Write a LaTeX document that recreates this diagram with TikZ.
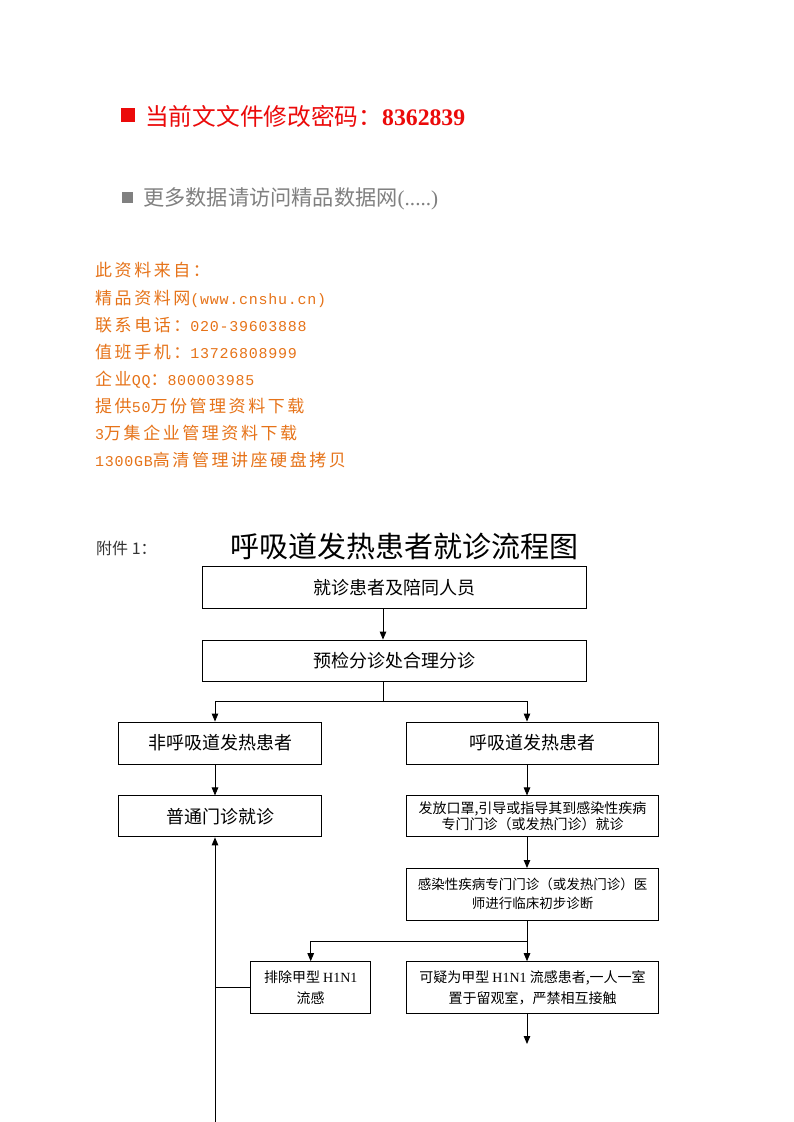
\documentclass[tikz,border=0pt]{standalone}
\usepackage{fontspec}
\setmainfont{Liberation Serif}
\newfontfamily\cjk{Noto Sans CJK SC}
\newfontfamily\cjksp{Noto Sans CJK SC}[LetterSpace=15]
\newfontfamily\monosp{Liberation Mono}[LetterSpace=5]
\usetikzlibrary{arrows.meta}
\definecolor{hdred}{RGB}{235,10,10}
\definecolor{hdgray}{RGB}{128,128,128}
\definecolor{orng}{RGB}{230,115,25}
\newcommand{\hw}[1]{{\monosp\fontsize{15}{17}\selectfont #1}}
\begin{document}
\begin{tikzpicture}[x=1pt,y=-1pt,
  box/.style={draw=black, line width=0.9pt, inner sep=0pt, align=center,
    font=\cjk\fontsize{18}{18}\selectfont},
  arr/.style={line width=0.9pt, -{Triangle[length=8pt,width=6.5pt]}},
  ln/.style={line width=0.9pt},
  otxt/.style={anchor=base west, inner sep=0pt, text=orng,
    font=\cjksp\fontsize{17}{17}\selectfont}
]
\useasboundingbox[fill=white] (0,0) rectangle (793,1122);

% header
\node[fill=hdred, minimum size=14pt, inner sep=0pt] (sq1) at (128,115) {};
\node[anchor=west, inner sep=0pt, text=hdred, font=\cjk\fontsize{23.7}{23.7}\selectfont]
  (pw) at (145,116) {当前文文件修改密码：{\rmfamily\bfseries 8362839}};
\node[fill=hdgray, minimum size=11pt, inner sep=0pt] (sq2) at (127,197.5) {};
\node[anchor=west, inner sep=0pt, text=hdgray, font=\cjk\fontsize{21.2}{21.2}\selectfont]
  (more) at (143,199) {更多数据请访问精品数据网{\rmfamily(.....)}};

% orange text
\node[otxt] (o1) at (95,276) {此资料来自：};
\node[otxt] (o2) at (95,304) {精品资料网\hw{(www.cnshu.cn)}};
\node[otxt] (o3) at (95,331) {联系电话：\hw{020-39603888}};
\node[otxt] (o4) at (95,358) {值班手机：\hw{13726808999}};
\node[otxt] (o5) at (95,385) {企业\hw{QQ}：\hw{800003985}};
\node[otxt] (o6) at (95,412) {提供\hw{50}万份管理资料下载};
\node[otxt] (o7) at (95,439) {\hw{3}万集企业管理资料下载};
\node[otxt] (o8) at (95,466) {\hw{1300GB}高清管理讲座硬盘拷贝};

% titles
\node[anchor=west, inner sep=0pt, text=black!80, font=\cjk\fontsize{16}{16}\selectfont]
  (att) at (96,548) {附件 1：};
\node[inner sep=0pt, font=\cjk\fontsize{29}{29}\selectfont] (title) at (404,546) {呼吸道发热患者就诊流程图};

% boxes
\node[box, minimum width=384pt, minimum height=41.5pt] (A) at (394.5,587.5) {就诊患者及陪同人员};
\node[box, minimum width=384pt, minimum height=41.5pt] (B) at (394.5,660.8) {预检分诊处合理分诊};
\node[box, minimum width=203pt, minimum height=42pt] (C) at (220,743) {非呼吸道发热患者};
\node[box, minimum width=252pt, minimum height=42pt] (D) at (532.5,743) {呼吸道发热患者};
\node[box, minimum width=203pt, minimum height=41pt] (E) at (220,816.4) {普通门诊就诊};
\node[box, minimum width=252pt, minimum height=41pt, font=\cjk\fontsize{14}{16}\selectfont]
  (F) at (532.5,816.4) {发放口罩,引导或指导其到感染性疾病\\专门门诊（或发热门诊）就诊};
\node[box, minimum width=252pt, minimum height=51.5pt, font=\cjk\fontsize{13.5}{19}\selectfont]
  (G) at (532.5,894.2) {感染性疾病专门门诊（或发热门诊）医\\师进行临床初步诊断};
\node[box, minimum width=120pt, minimum height=51.5pt, font=\cjk\fontsize{14}{21}\selectfont]
  (H) at (310.7,987.4) {排除甲型 {\rmfamily H1N1}\\流感};
\node[box, minimum width=252pt, minimum height=51.5pt, font=\cjk\fontsize{14}{21}\selectfont]
  (I) at (532.5,987.4) {可疑为甲型 {\rmfamily H1N1} 流感患者,一人一室\\置于留观室，严禁相互接触};

% helper coordinates
\coordinate (xm) at (383,0);
\coordinate (xl) at (215,0);
\coordinate (xr) at (527,0);
\coordinate (j1) at (383,701.7);
\coordinate (j2) at (527,941);
\coordinate (iend) at (527,1044);
\coordinate (bot) at (215,1122);

% connectors
\draw[arr] (A.south -| xm) -- (B.north -| xm);
\draw[ln] (B.south -| xm) -- (j1);
\draw[arr] (j1) -| (C.north -| xl);
\draw[arr] (j1) -| (D.north -| xr);
\draw[arr] (C.south -| xl) -- (E.north -| xl);
\draw[arr] (D.south -| xr) -- (F.north -| xr);
\draw[arr] (F.south -| xr) -- (G.north -| xr);
\draw[ln] (G.south -| xr) -- (j2);
\draw[arr] (j2) -- (I.north -| xr);
\draw[arr] (j2) -| (H.north);
\draw[arr] (I.south -| xr) -- (iend);
\draw[arr] (bot) -- (E.south -| xl);
\draw[ln] (H.west) -- (H.west -| xl);
\end{tikzpicture}
\end{document}
